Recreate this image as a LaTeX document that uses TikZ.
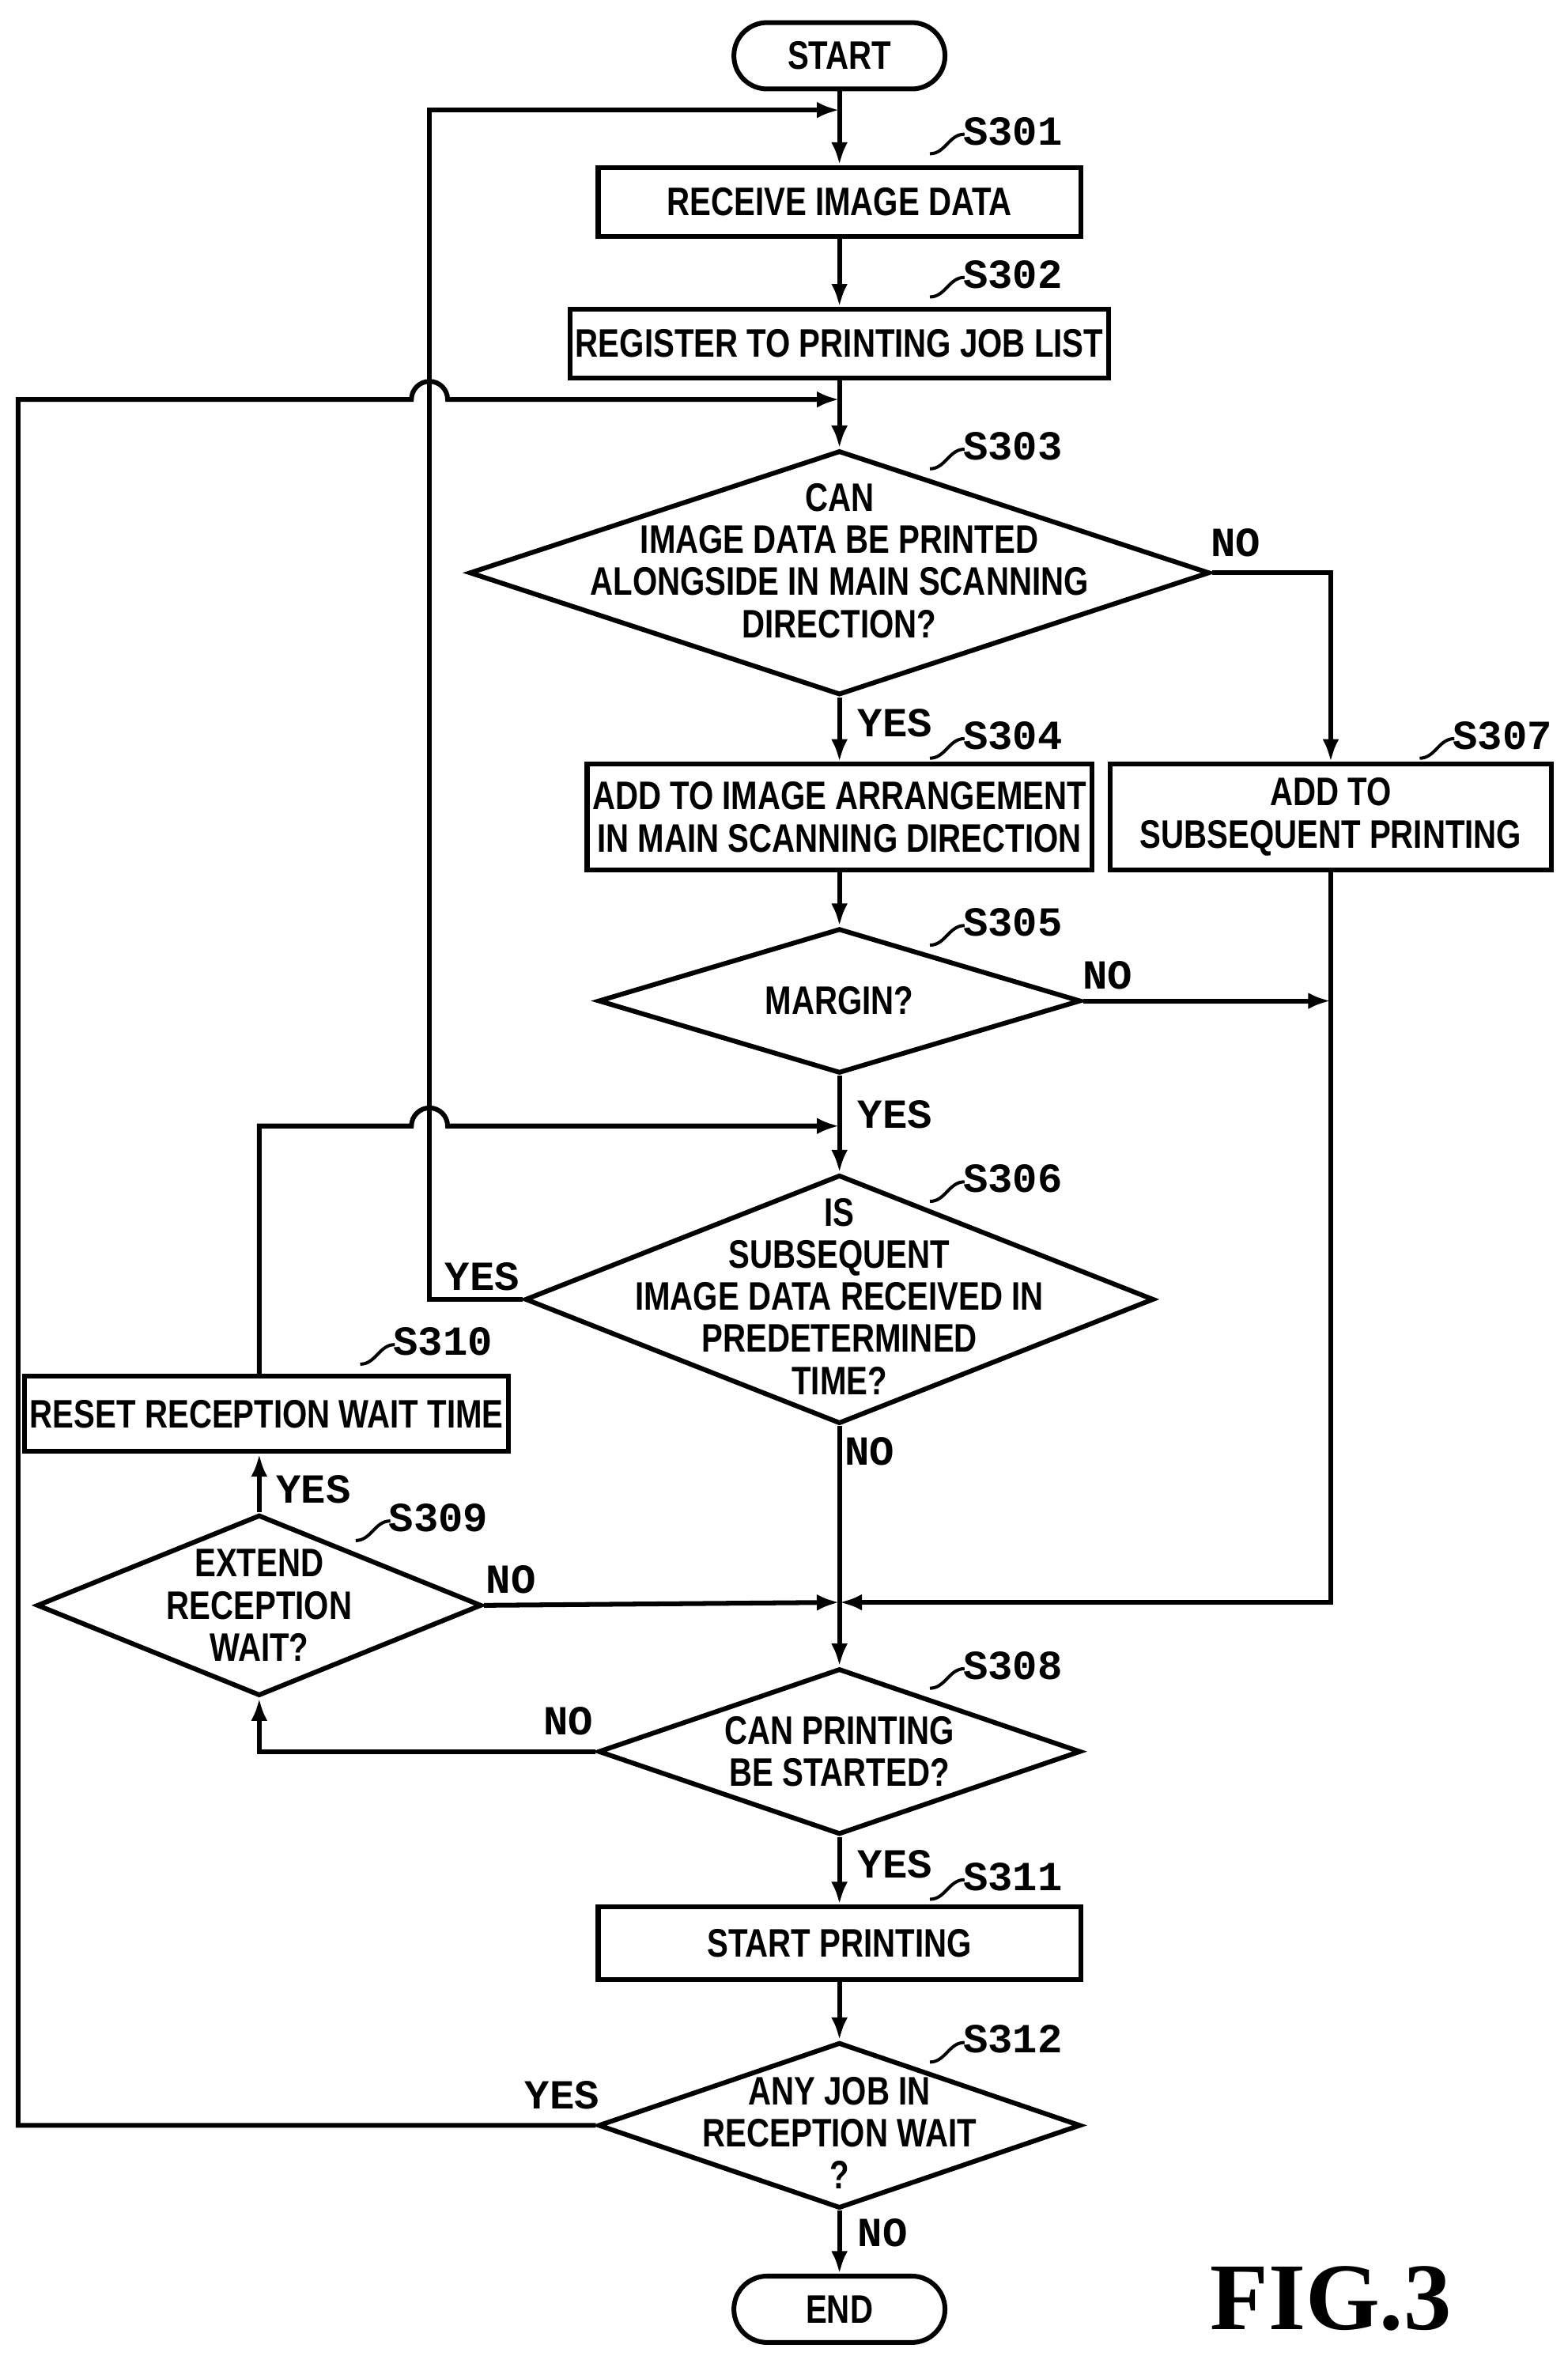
\documentclass[tikz,border=0pt]{standalone}
\usepackage{fontspec}
\setmainfont{Liberation Sans}[FakeStretch=0.8]
\newfontfamily\stepfont{Liberation Mono}
\newfontfamily\figfont{Liberation Serif}
\usetikzlibrary{arrows.meta,positioning,calc,shapes.geometric}

\tikzset{
  box/.style={draw,line width=0.9pt,minimum width=3.2cm,minimum height=0.46cm,inner sep=1pt,
    font=\bfseries\fontsize{7.5}{8}\selectfont,align=center},
  dia/.style={draw,diamond,line width=0.9pt,inner sep=0pt},
  dtxt/.style={font=\bfseries\fontsize{7.5}{7.95}\selectfont,align=center,inner sep=0pt},
  term/.style={draw,rounded corners=0.22cm,line width=0.9pt,minimum width=1.4cm,minimum height=0.44cm,
    font=\bfseries\fontsize{7.5}{8}\selectfont},
  steplab/.style={font=\stepfont\bfseries\fontsize{7.8}{8}\selectfont,inner sep=0pt},
  yn/.style={font=\stepfont\bfseries\fontsize{7.8}{8}\selectfont,inner sep=0pt},
  arr/.style={line width=0.9pt,-{Latex[length=0.15cm,width=0.11cm]}},
  ln/.style={line width=0.9pt}
}
\newcommand{\steplbl}[4]{%
  \node[steplab] (#1) at (#2,#3) {#4};
  \draw[line width=0.6pt] (#2-55,#3-15) to[out=0,in=180] (#2-32,#3-2);}

\begin{document}
\begin{tikzpicture}[x=0.01cm,y=0.01cm]
  \useasboundingbox (0,0) rectangle (1040,-1563);

  % Terminals and boxes
  \node[term] (start) at (557,-37) {START};
  \node[box] (s301) at (557,-134) {RECEIVE IMAGE DATA};
  \node[box] (s302) at (557,-228) {REGISTER TO PRINTING JOB LIST};
  \node[box,minimum height=0.7cm] (s304) at (557,-542) {ADD TO IMAGE ARRANGEMENT\\IN MAIN SCANNING DIRECTION};
  \node[box,minimum width=2.93cm,minimum height=0.7cm] (s307) at (883,-542) {ADD TO\\SUBSEQUENT PRINTING};
  \node[box,minimum width=2.95cm,minimum height=0.5cm] (s310) at (177,-938) {RESET RECEPTION WAIT TIME};
  \node[box,minimum height=0.48cm] (s311) at (557,-1289) {START PRINTING};
  \node[term] (end) at (557,-1532) {END};

  % Decisions
  \node[dia,minimum width=4.91cm,minimum height=1.62cm] (s303) at (557,-380) {};
  \node[dtxt] (s303t) at (557,-372) {CAN\\IMAGE DATA BE PRINTED\\ALONGSIDE IN MAIN SCANNING\\DIRECTION?};
  \node[dia,minimum width=3.2cm,minimum height=0.96cm] (s305) at (557,-664) {};
  \node[dtxt] (s305t) at (s305) {MARGIN?};
  \node[dia,minimum width=4.17cm,minimum height=1.65cm] (s306) at (557,-862) {};
  \node[dtxt] (s306t) at (557,-860) {IS\\SUBSEQUENT\\IMAGE DATA RECEIVED IN\\PREDETERMINED\\TIME?};
  \node[dia,minimum width=2.95cm,minimum height=1.2cm] (s309) at (172,-1065) {};
  \node[dtxt] (s309t) at (s309) {EXTEND\\RECEPTION\\WAIT?};
  \node[dia,minimum width=3.2cm,minimum height=1.1cm] (s308) at (557,-1162) {};
  \node[dtxt] (s308t) at (s308) {CAN PRINTING\\BE STARTED?};
  \node[dia,minimum width=3.2cm,minimum height=1.1cm] (s312) at (557,-1410) {};
  \node[dtxt] (s312t) at (557,-1415) {ANY JOB IN\\RECEPTION WAIT\\?};

  % Step labels
  \steplbl{l301}{672}{-87}{S301}
  \steplbl{l302}{672}{-182}{S302}
  \steplbl{l303}{672}{-296}{S303}
  \steplbl{l304}{672}{-488}{S304}
  \steplbl{l305}{672}{-612}{S305}
  \steplbl{l306}{672}{-782}{S306}
  \steplbl{l307}{997}{-488}{S307}
  \steplbl{l308}{672}{-1105}{S308}
  \steplbl{l309}{291}{-1007}{S309}
  \steplbl{l310}{294}{-890}{S310}
  \steplbl{l311}{672}{-1245}{S311}
  \steplbl{l312}{672}{-1353}{S312}

  % Junctions
  \coordinate (j1) at (557,-73);
  \coordinate (j2) at (557,-265);
  \coordinate (j3) at (557,-747);
  \coordinate (j4) at (557,-1063);

  % Main flow
  \draw[arr] (start) -- (s301);
  \draw[arr] (s301) -- (s302);
  \draw[arr] (s302) -- (s303);
  \draw[arr] (s303) -- node[yn,right=3pt,pos=0.4] (y303) {YES} (s304);
  \draw[arr] (s304) -- (s305);
  \draw[arr] (s305) -- node[yn,right=3pt,pos=0.4] (y305) {YES} (s306);
  \draw[arr] (s306) -- (s308);
  \node[yn] (n306) at (577,-963) {NO};
  \draw[arr] (s308) -- node[yn,right=3pt,pos=0.4] (y308) {YES} (s311);
  \draw[arr] (s311) -- (s312);
  \draw[arr] (s312) -- node[yn,right=3pt,pos=0.35] (n312) {NO} (end);

  % Branches
  \draw[arr] (s303.east) -| (s307.north);
  \node[yn] (n303) at (820,-360) {NO};
  \draw[arr] (s305.east) -- (883,-664);
  \node[yn] (n305) at (735,-647) {NO};
  \draw[arr] (s307.south) -- (883,-1063) -- (j4);
  \draw[arr] (s309.east) -- (j4);
  \node[yn] (n309) at (339,-1048) {NO};
  \draw[arr] (s308.west) -| (s309.south);
  \node[yn] (n308) at (377,-1142) {NO};
  \draw[arr] (s309.north) -- (s309.north |- s310.south);
  \node[yn] (y309) at (208,-988) {YES};

  % Loops back
  \draw[arr] (s306.west) -- (285,-862) -- (285,-73) -- (j1);
  \node[yn] (y306) at (320,-847) {YES};
  \draw[arr] (s312.west) -- (12,-1410) -- (12,-265) -- (273,-265)
    arc[start angle=180,end angle=0,radius=12] -- (j2);
  \node[yn] (y312) at (373,-1390) {YES};
  \draw[arr] (s310.north -| s309.north) -- (172,-747) -- (273,-747)
    arc[start angle=180,end angle=0,radius=12] -- (j3);

  % Figure label
  \node[font=\figfont\bfseries\fontsize{18}{18}\selectfont,inner sep=0pt] (fig) at (883,-1525) {FIG.3};
\end{tikzpicture}
\end{document}
